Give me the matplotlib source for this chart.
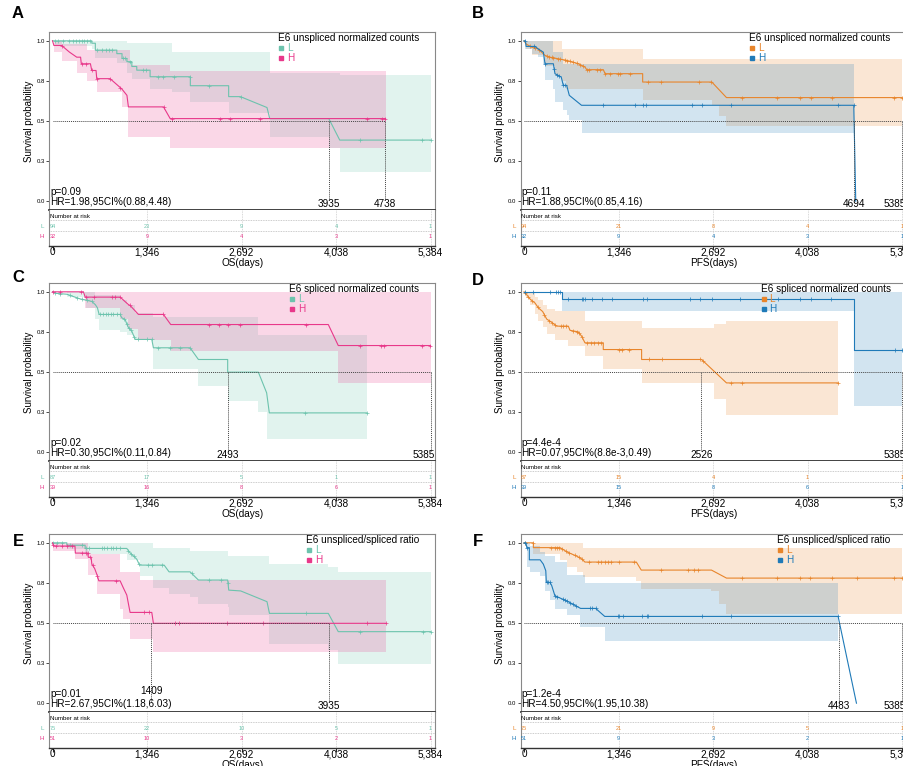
import matplotlib.pyplot as plt
import numpy as np
from matplotlib.lines import Line2D

plt.rcParams['font.family'] = ['Liberation Sans', 'DejaVu Sans']

TICKS = [0, 1346, 2692, 4038, 5384]
TICK_LABELS = ['0', '1,346', '2,692', '4,038', '5,384']
GROUPS = ['L', 'H']

TEAL, PINK = '#6cc3ad', '#e8388a'
ORANGE, BLUE = '#e8852b', '#1f7ab8'

# ---------------- panel A : OS, E6 unspliced normalized counts
a_l_t = [0, 560, 560, 610, 610, 916, 916, 990, 990, 1060, 1060, 1130, 1130, 1200, 1200, 1390, 1390,
         1963, 1963, 2509, 2509, 2675, 3055, 3094, 3935, 4091, 5384]
a_l_s = [1.0, 1.0, 0.985, 0.985, 0.942, 0.942, 0.92, 0.92, 0.89, 0.89, 0.87, 0.87, 0.84, 0.84, 0.817, 0.817,
         0.776, 0.776, 0.72, 0.72, 0.652, 0.652, 0.584, 0.515, 0.515, 0.381, 0.381]
a_l_cens = [30, 80, 150, 230, 290, 340, 380, 420, 450, 490, 530, 640, 700, 760, 800, 850, 1000, 1030,
            1100, 1290, 1330, 1500, 1580, 1725, 1960, 2224, 2680, 4386, 5266, 5384]
a_l_bt = [0, 30, 560, 610, 916, 1060, 1130, 1390, 1700, 1963, 2509, 3094, 3935, 4091, 5384]
a_l_lo = [1.0, 0.97, 0.95, 0.89, 0.86, 0.80, 0.76, 0.70, 0.68, 0.62, 0.55, 0.40, 0.33, 0.184, 0.184]
a_l_hi = [1.0, 1.0, 1.0, 1.0, 1.0, 0.985, 0.985, 0.985, 0.93, 0.93, 0.93, 0.80, 0.80, 0.787, 0.787]
a_l_risk = [94, 23, 9, 4, 1]

a_h_t = [0, 20, 130, 240, 345, 400, 410, 540, 559, 620, 630, 820, 987, 1060, 1081, 1581, 1676, 4743]
a_h_s = [1.0, 0.971, 0.971, 0.93, 0.898, 0.898, 0.857, 0.857, 0.815, 0.815, 0.764, 0.764, 0.70, 0.66,
         0.588, 0.588, 0.515, 0.515]
a_h_cens = [133, 418, 480, 560, 632, 822, 965, 1582, 1700, 2390, 2533, 2951, 4481, 4695, 4742]
a_h_bt = [0, 20, 130, 345, 490, 630, 987, 1081, 1100, 1676, 4743]
a_h_lo = [1.0, 0.93, 0.877, 0.80, 0.75, 0.68, 0.59, 0.40, 0.40, 0.333, 0.333]
a_h_hi = [1.0, 1.0, 0.98, 0.98, 0.94, 0.94, 0.94, 0.94, 0.85, 0.81, 0.81]
a_h_risk = [32, 9, 4, 3, 1]
a_medians = [3935, 4738]

# ---------------- panel B : PFS, E6 unspliced normalized counts
b_l_t = [0, 30, 110, 200, 299, 370, 608, 774, 869, 893, 1130, 1154, 1690, 1690, 2675, 2884, 5384]
b_l_s = [1.0, 0.98, 0.96, 0.95, 0.909, 0.898, 0.878, 0.857, 0.836, 0.82, 0.82, 0.795, 0.795, 0.743,
         0.743, 0.646, 0.646]
b_l_cens = [85, 156, 218, 323, 356, 394, 418, 479, 512, 584, 617, 655, 702, 750, 797, 844, 892, 930,
            1034, 1081, 1153, 1224, 1342, 1366, 1508, 1770, 1945, 2495, 2661, 3103, 3610, 3928, 4085,
            4383, 5270, 5384]
b_l_bt = [0, 30, 110, 300, 440, 536, 600, 1690, 2675, 2780, 2884, 5384]
b_l_lo = [1.0, 0.95, 0.91, 0.84, 0.78, 0.75, 0.70, 0.63, 0.60, 0.53, 0.468, 0.468]
b_l_hi = [1.0, 1.0, 1.0, 1.0, 1.0, 0.95, 0.95, 0.888, 0.888, 0.888, 0.888, 0.888]
b_l_risk = [94, 21, 8, 4, 1]

b_h_t = [0, 20, 30, 160, 200, 276, 299, 418, 441, 530, 560, 608, 645, 819, 4697, 4725]
b_h_s = [1.0, 1.0, 0.965, 0.965, 0.95, 0.929, 0.857, 0.857, 0.795, 0.774, 0.722, 0.722, 0.66, 0.598,
         0.598, 0.0]
b_h_cens = [10, 140, 300, 430, 470, 500, 560, 590, 1120, 1580, 1700, 1736, 2386, 2529, 2955, 4474, 4697]
b_h_bt = [0, 20, 110, 200, 276, 299, 418, 441, 560, 608, 645, 819, 4697]
b_h_lo = [1.0, 0.95, 0.92, 0.898, 0.857, 0.753, 0.70, 0.62, 0.567, 0.54, 0.505, 0.427, 0.427]
b_h_hi = [1.0, 1.0, 1.0, 1.0, 1.0, 1.0, 0.93, 0.93, 0.857, 0.857, 0.857, 0.857, 0.857]
b_h_risk = [32, 9, 4, 3, 1]
b_medians = [4694, 5385]

# ---------------- panel C : OS, E6 spliced normalized counts
c_l_t = [0, 60, 204, 300, 400, 480, 560, 610, 640, 664, 963, 987, 1034, 1058, 1082, 1129, 1177, 1414,
         1437, 1959, 2078, 2495, 2495, 2932, 3050, 3088, 4474]
c_l_s = [1.0, 0.99, 0.985, 0.97, 0.955, 0.948, 0.94, 0.92, 0.90, 0.859, 0.859, 0.838, 0.827, 0.80,
         0.776, 0.755, 0.703, 0.703, 0.651, 0.651, 0.578, 0.578, 0.499, 0.499, 0.37, 0.245, 0.245]
c_l_cens = [38, 109, 251, 346, 417, 489, 560, 678, 726, 764, 797, 830, 868, 916, 963, 1020, 1058, 1091,
            1115, 1162, 1220, 1343, 1414, 1508, 1675, 1817, 1959, 3596, 4474]
c_l_bt = [0, 200, 480, 610, 664, 963, 1058, 1177, 1437, 2078, 2495, 2932, 3050, 4474]
c_l_lo = [1.0, 0.97, 0.90, 0.83, 0.765, 0.75, 0.73, 0.70, 0.516, 0.41, 0.318, 0.25, 0.083, 0.083]
c_l_hi = [1.0, 1.0, 1.0, 0.98, 0.98, 0.95, 0.92, 0.87, 0.84, 0.84, 0.84, 0.73, 0.73, 0.73]
c_l_risk = [87, 17, 5, 1, 1]

c_h_t = [0, 441, 465, 963, 1082, 1105, 1224, 1580, 1684, 3928, 4070, 5384]
c_h_s = [1.0, 1.0, 0.967, 0.967, 0.92, 0.915, 0.859, 0.859, 0.796, 0.796, 0.665, 0.665]
c_h_cens = [14, 109, 408, 479, 584, 854, 892, 963, 1105, 1580, 2235, 2377, 2495, 2670, 3610, 4379,
            4678, 4725, 5256, 5374]
c_h_bt = [0, 465, 963, 1082, 1224, 1684, 4070, 5384]
c_h_lo = [1.0, 0.90, 0.83, 0.77, 0.70, 0.63, 0.432, 0.432]
c_h_hi = [1.0, 1.0, 1.0, 1.0, 1.0, 1.0, 1.0, 1.0]
c_h_risk = [39, 16, 8, 6, 1]
c_medians = [2493, 5385]

# ---------------- panel D : PFS, E6 spliced normalized counts
d_l_t = [0, 28, 85, 157, 204, 266, 323, 394, 465, 631, 655, 773, 821, 868, 1129, 1129, 1675, 1675,
         2529, 2884, 4474]
d_l_s = [1.0, 0.988, 0.955, 0.93, 0.90, 0.877, 0.83, 0.81, 0.786, 0.786, 0.76, 0.75, 0.723, 0.682,
         0.682, 0.64, 0.64, 0.578, 0.578, 0.432, 0.432]
d_l_cens = [20, 60, 120, 200, 290, 360, 400, 440, 520, 560, 600, 700, 760, 790, 830, 900, 960, 1000,
            1060, 1100, 1350, 1400, 1500, 1780, 1960, 2500, 2550, 2950, 3100, 4474]
d_l_bt = [0, 28, 85, 157, 204, 266, 323, 441, 631, 868, 1129, 1675, 2529, 2700, 2884, 4474]
d_l_lo = [1.0, 0.96, 0.92, 0.86, 0.82, 0.78, 0.74, 0.697, 0.66, 0.60, 0.52, 0.432, 0.432, 0.33, 0.23, 0.23]
d_l_hi = [1.0, 1.0, 0.99, 0.97, 0.95, 0.92, 0.89, 0.88, 0.88, 0.817, 0.817, 0.775, 0.775, 0.80, 0.817, 0.817]
d_l_risk = [87, 15, 4, 1, 1]

d_h_t = [0, 546, 546, 4697, 4697, 5384]
d_h_s = [1.0, 1.0, 0.958, 0.958, 0.64, 0.64]
d_h_cens = [14, 123, 370, 455, 479, 512, 631, 820, 844, 868, 963, 1105, 1248, 1698, 1746, 2362, 2505,
            2671, 3074, 3620, 3928, 4085, 4379, 5280, 5384]
d_h_bt = [546, 4697, 5384]
d_h_lo = [0.88, 0.287, 0.287]
d_h_hi = [1.0, 1.0, 1.0]
d_h_risk = [39, 15, 8, 6, 1]
d_medians = [2526, 5385]

# ---------------- panel E : OS, E6 unspliced/spliced ratio
e_l_t = [0, 204, 204, 465, 465, 1058, 1100, 1200, 1240, 1590, 1660, 1959, 2078, 2495, 2510, 2680,
         3055, 3090, 3928, 4070, 5384]
e_l_s = [1.0, 1.0, 0.985, 0.985, 0.965, 0.965, 0.94, 0.898, 0.861, 0.861, 0.819, 0.819, 0.768, 0.768,
         0.705, 0.70, 0.633, 0.56, 0.56, 0.446, 0.446]
e_l_cens = [10, 60, 130, 250, 420, 480, 520, 700, 740, 780, 830, 860, 910, 960, 1080, 1120, 1160, 1230,
            1360, 1420, 1560, 1980, 2230, 2400, 2500, 3610, 4380, 5270, 5384]
e_l_bt = [0, 204, 465, 1058, 1240, 1437, 1660, 1959, 2078, 2495, 2510, 3090, 3928, 4070, 5384]
e_l_lo = [1.0, 0.96, 0.93, 0.89, 0.79, 0.72, 0.68, 0.66, 0.62, 0.60, 0.55, 0.37, 0.33, 0.245, 0.245]
e_l_hi = [1.0, 1.0, 1.0, 1.0, 1.0, 0.97, 0.97, 0.95, 0.95, 0.92, 0.92, 0.87, 0.85, 0.819, 0.819]
e_l_risk = [75, 22, 10, 5, 1]

e_h_t = [0, 14, 320, 325, 500, 510, 550, 560, 600, 630, 660, 963, 1010, 1058, 1082, 1105, 1414, 1437, 4743]
e_h_s = [1.0, 0.98, 0.98, 0.936, 0.936, 0.91, 0.91, 0.867, 0.84, 0.805, 0.763, 0.763, 0.718, 0.674,
         0.618, 0.566, 0.566, 0.498, 0.498]
e_h_cens = [10, 50, 130, 200, 280, 420, 470, 500, 540, 570, 640, 900, 1300, 1370, 1750, 1800, 2490,
            3000, 4480, 4743]
e_h_bt = [0, 14, 320, 512, 631, 963, 1010, 1105, 1248, 1437, 4743]
e_h_lo = [1.0, 0.95, 0.90, 0.80, 0.68, 0.59, 0.525, 0.40, 0.40, 0.32, 0.32]
e_h_hi = [1.0, 1.0, 1.0, 0.93, 0.93, 0.815, 0.815, 0.815, 0.768, 0.768, 0.768]
e_h_risk = [51, 10, 3, 2, 1]
e_medians = [1409, 3935]

# ---------------- panel F : PFS, E6 unspliced/spliced ratio
f_l_t = [0, 133, 133, 512, 560, 607, 750, 820, 868, 1600, 1670, 2670, 2884, 5384]
f_l_s = [1.0, 1.0, 0.97, 0.97, 0.958, 0.944, 0.917, 0.90, 0.88, 0.88, 0.83, 0.83, 0.78, 0.78]
f_l_cens = [20, 130, 380, 440, 470, 500, 540, 600, 640, 720, 780, 820, 920, 1050, 1100, 1150, 1190,
            1240, 1360, 1560, 1950, 2330, 2420, 2480, 3100, 3610, 3930, 4080, 4380, 4740, 5270, 5384]
f_l_bt = [0, 133, 512, 607, 750, 845, 1600, 1670, 2670, 2780, 2884, 5384]
f_l_lo = [1.0, 0.93, 0.89, 0.85, 0.82, 0.784, 0.76, 0.712, 0.70, 0.62, 0.556, 0.556]
f_l_hi = [1.0, 1.0, 1.0, 1.0, 1.0, 0.97, 0.97, 0.97, 0.97, 0.97, 0.97, 0.97]
f_l_risk = [75, 21, 9, 5, 1]

f_h_t = [0, 28, 40, 76, 76, 230, 275, 310, 318, 370, 394, 440, 630, 725, 806, 1020, 1150, 4474, 4735]
f_h_s = [1.0, 1.0, 0.97, 0.97, 0.894, 0.894, 0.867, 0.826, 0.753, 0.753, 0.734, 0.67, 0.633, 0.61,
         0.591, 0.591, 0.541, 0.541, 0.0]
f_h_cens = [14, 47, 323, 346, 370, 441, 465, 560, 584, 607, 655, 702, 740, 939, 963, 1020, 1342, 1356,
            1413, 1675, 1746, 1760, 2529, 2955, 4474]
f_h_bt = [0, 40, 85, 228, 299, 370, 441, 607, 631, 797, 868, 1153, 4474]
f_h_lo = [1.0, 0.85, 0.815, 0.795, 0.70, 0.645, 0.587, 0.55, 0.55, 0.473, 0.473, 0.39, 0.39]
f_h_hi = [1.0, 1.0, 0.98, 0.94, 0.92, 0.92, 0.88, 0.80, 0.80, 0.80, 0.749, 0.749, 0.749]
f_h_risk = [51, 9, 3, 2, 1]
f_medians = [4483, 5385]

# layout (pixels of a 904x766 canvas)
FW, FH = 904, 766
AX_W = 386.5 / FW
MAIN_H = 178 / FH
RISK_H = 36 / FH


def draw_panel(fig, left_px, risk_bottom_px, letter, letter_px, title, xlabel,
               colors, curves, p_txt, hr_txt, medians, med_y):
    left = left_px / FW
    bottom = 1 - risk_bottom_px / FH
    ax = fig.add_axes([left, bottom + RISK_H, AX_W, MAIN_H])
    rk = fig.add_axes([left, bottom, AX_W, RISK_H])

    for c, (t, s, cens, bt, lo, hi, risk) in zip(colors, curves):
        ax.fill_between(bt, lo, hi, step='post', color=c, alpha=0.2, lw=0)
        ax.plot(t, s, color=c, lw=0.8)
        ax.plot(cens, np.interp(cens, t, s), ls='', marker='+', ms=3, mew=0.5, color=c)

    # median survival guides
    ax.plot([0, max(medians)], [0.5, 0.5], ls=(0, (1, 1)), color='#444444', lw=0.7)
    for m, y in zip(medians, med_y):
        ax.plot([m, m], [0.008, 0.5], ls=(0, (1, 1)), color='#444444', lw=0.7)
        if m > 5300:
            ax.text(5440, y, str(m), ha='right', va='center', fontsize=7.2)
        else:
            ax.text(m, y, str(m), ha='center', va='center', fontsize=7.2)

    ax.text(-36, 0.055, p_txt, fontsize=7.2, va='center')
    ax.text(-36, -0.008, hr_txt, fontsize=7.2, va='center')

    ax.set_xlim(-50, 5455)
    ax.set_ylim(-0.055, 1.055)
    ax.set_xticks([])
    ax.set_yticks([0, 0.25, 0.5, 0.75, 1.0])
    ax.set_yticklabels(['0.0', '0.3', '0.5', '0.8', '1.0'], fontsize=4.3)
    ax.tick_params(axis='y', length=2, width=0.5, pad=1)
    for sp in ['top', 'right', 'left']:
        ax.spines[sp].set_color('#888888')
        ax.spines[sp].set_linewidth(0.8)
    ax.spines['bottom'].set_color('#333333')
    ax.spines['bottom'].set_linewidth(1.3)
    ax.set_ylabel('Survival probability', fontsize=7)
    ax.yaxis.set_label_coords(-0.04, 0.5)

    handles = [Line2D([], [], marker='s', ls='', color=c, ms=3.5) for c in colors]
    leg = ax.legend(handles, GROUPS, title=title, loc='upper right', bbox_to_anchor=(0.96, 1.0),
                    frameon=False, fontsize=7.2, title_fontsize=7.2, handlelength=0.6,
                    handletextpad=0.3, labelspacing=0.0, borderpad=0, borderaxespad=0.1)
    leg._legend_box.align = 'left'
    for txt, c in zip(leg.get_texts(), colors):
        txt.set_color(c)

    # number-at-risk table
    rk.set_xlim(-50, 5455)
    rk.set_ylim(0, 1)
    rk.set_yticks([])
    rk.set_xticks(TICKS)
    rk.set_xticklabels(TICK_LABELS, fontsize=7.2)
    rk.tick_params(axis='x', length=3, width=0.6, pad=-2)
    rk.spines['top'].set_visible(False)
    for sp in ['left', 'right']:
        rk.spines[sp].set_color('#888888')
        rk.spines[sp].set_linewidth(0.8)
    rk.spines['bottom'].set_color('#333333')
    rk.spines['bottom'].set_linewidth(1.0)
    rk.text(-40, 0.83, 'Number at risk', fontsize=4.4, va='center')
    for yy in [0.72, 0.43]:
        rk.axhline(yy, ls=(0, (1, 1)), color='#bbbbbb', lw=0.6)
    for x in TICKS[1:]:
        rk.axvline(x, ls=(0, (1, 1)), color='#cccccc', lw=0.6)
    for yy, name, c, (t, s, cens, bt, lo, hi, risk) in zip([0.54, 0.27], GROUPS, colors, curves):
        rk.text(-0.012, yy, name, transform=rk.transAxes, ha='right', va='center', fontsize=4.5, color=c)
        for x, n in zip(TICKS, risk):
            rk.text(x, yy, str(n), ha='center', va='center', fontsize=4, color=c)
    rk.set_xlabel(xlabel, fontsize=7.2, labelpad=0.5)

    fig.text(letter_px[0] / FW, 1 - letter_px[1] / FH, letter, fontsize=12, fontweight='bold',
             ha='center', va='center')


fig = plt.figure(figsize=(9.04, 7.66), dpi=100)

draw_panel(fig, 49, 246, 'A', (18, 14), 'E6 unspliced normalized counts', 'OS(days)', [TEAL, PINK],
           [(a_l_t, a_l_s, a_l_cens, a_l_bt, a_l_lo, a_l_hi, a_l_risk),
            (a_h_t, a_h_s, a_h_cens, a_h_bt, a_h_lo, a_h_hi, a_h_risk)],
           'p=0.09', 'HR=1.98,95CI%(0.88,4.48)', a_medians, [-0.02, -0.02])
draw_panel(fig, 520.5, 246, 'B', (478, 14), 'E6 unspliced normalized counts', 'PFS(days)', [ORANGE, BLUE],
           [(b_l_t, b_l_s, b_l_cens, b_l_bt, b_l_lo, b_l_hi, b_l_risk),
            (b_h_t, b_h_s, b_h_cens, b_h_bt, b_h_lo, b_h_hi, b_h_risk)],
           'p=0.11', 'HR=1.88,95CI%(0.85,4.16)', b_medians, [-0.02, -0.02])
draw_panel(fig, 49, 497, 'C', (18, 278), 'E6 spliced normalized counts', 'OS(days)', [TEAL, PINK],
           [(c_l_t, c_l_s, c_l_cens, c_l_bt, c_l_lo, c_l_hi, c_l_risk),
            (c_h_t, c_h_s, c_h_cens, c_h_bt, c_h_lo, c_h_hi, c_h_risk)],
           'p=0.02', 'HR=0.30,95CI%(0.11,0.84)', c_medians, [-0.02, -0.02])
draw_panel(fig, 520.5, 497, 'D', (478, 280), 'E6 spliced normalized counts', 'PFS(days)', [ORANGE, BLUE],
           [(d_l_t, d_l_s, d_l_cens, d_l_bt, d_l_lo, d_l_hi, d_l_risk),
            (d_h_t, d_h_s, d_h_cens, d_h_bt, d_h_lo, d_h_hi, d_h_risk)],
           'p=4.4e-4', 'HR=0.07,95CI%(8.8e-3,0.49)', d_medians, [-0.02, -0.02])
draw_panel(fig, 49, 748, 'E', (18, 542), 'E6 unspliced/spliced ratio', 'OS(days)', [TEAL, PINK],
           [(e_l_t, e_l_s, e_l_cens, e_l_bt, e_l_lo, e_l_hi, e_l_risk),
            (e_h_t, e_h_s, e_h_cens, e_h_bt, e_h_lo, e_h_hi, e_h_risk)],
           'p=0.01', 'HR=2.67,95CI%(1.18,6.03)', e_medians, [0.073, -0.02])
draw_panel(fig, 520.5, 748, 'F', (478, 541), 'E6 unspliced/spliced ratio', 'PFS(days)', [ORANGE, BLUE],
           [(f_l_t, f_l_s, f_l_cens, f_l_bt, f_l_lo, f_l_hi, f_l_risk),
            (f_h_t, f_h_s, f_h_cens, f_h_bt, f_h_lo, f_h_hi, f_h_risk)],
           'p=1.2e-4', 'HR=4.50,95CI%(1.95,10.38)', f_medians, [-0.02, -0.02])

fig.savefig('out.png', dpi=100)
